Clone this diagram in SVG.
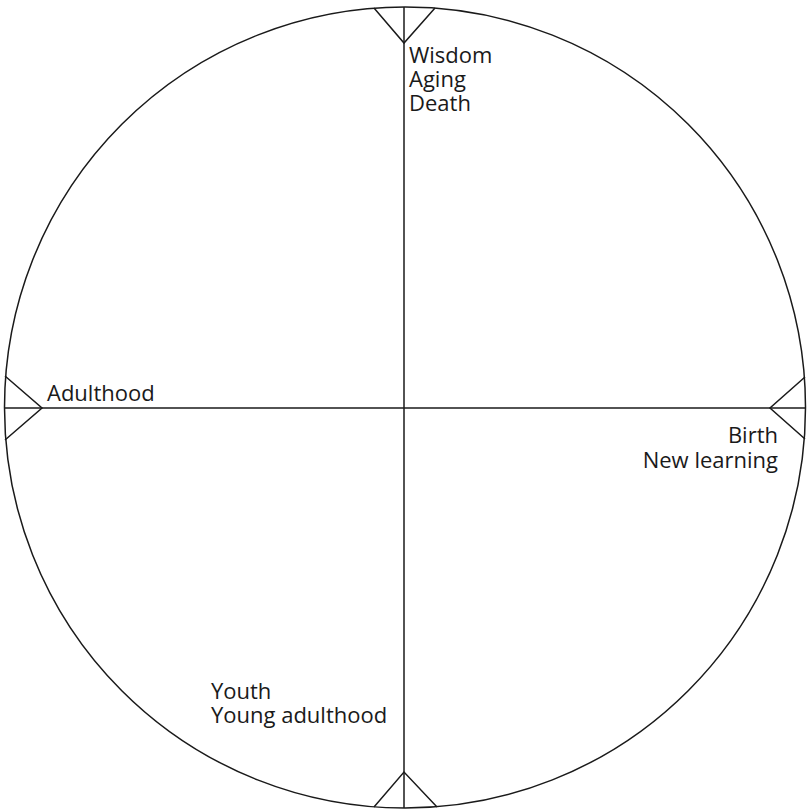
<svg xmlns="http://www.w3.org/2000/svg" width="807" height="812" viewBox="0 0 807 812">
<style>
.ln{fill:none;stroke:#1a1a1a;stroke-width:1.5}
text{font-family:"Open Sans","Noto Sans",sans-serif;font-size:22px;fill:#1a1a1a}
</style>
<rect width="807" height="812" fill="#fff"/>
<g id="connectors">
<circle class="ln" cx="405" cy="407.5" r="400.5"/>
<line class="ln" x1="404" y1="7" x2="404" y2="808"/>
<line class="ln" x1="5" y1="408" x2="806" y2="408"/>
<polyline class="ln" points="374,8 404,43 435,8"/>
<polyline class="ln" points="5,376 42,408 5,440"/>
<polyline class="ln" points="805,377 770,408 805,439"/>
<polyline class="ln" points="374,807 404,772 437,807"/>
</g>
<g id="top"><text x="409" y="63">Wisdom</text><text x="409" y="87">Aging</text><text x="409" y="111">Death</text></g>
<g id="left"><text x="47" y="401">Adulthood</text></g>
<g id="right"><text x="778" y="443" text-anchor="end">Birth</text><text x="778" y="468" text-anchor="end">New learning</text></g>
<g id="bottom"><text x="211" y="699">Youth</text><text x="211" y="723">Young adulthood</text></g>
</svg>
